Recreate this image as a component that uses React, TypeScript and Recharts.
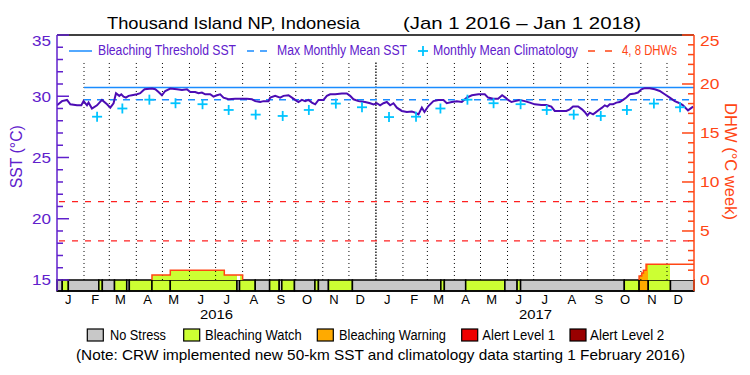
import React from 'react';
import {
  ComposedChart,
  Line,
  Area,
  Scatter,
  XAxis,
  YAxis,
  ReferenceLine,
  ReferenceArea,
} from 'recharts';

const PURPLE = '#6020cc';
const SST_COLOR = '#4c0cb4';
const BLUE = '#1a8cff';
const CYAN = '#00c4ff';
const ORANGE_RED = '#ff4614';
const DHW_RED = '#ff2020';
const FONT = '"Liberation Sans", Arial, sans-serif';

const TOTAL_DAYS = 731;
const monthLetters = ['J', 'F', 'M', 'A', 'M', 'J', 'J', 'A', 'S', 'O', 'N', 'D'];
const monthStarts = [0, 31, 60, 91, 121, 152, 182, 213, 244, 274, 305, 335, 366, 397, 425, 456, 486, 517, 547, 578, 609, 639, 670, 700];
const yearLabels = ['2016', '2017'];
const yearLabelDays = [183, 549];
const sstTicks = [15, 16, 17, 18, 19, 20, 21, 22, 23, 24, 25, 26, 27, 28, 29, 30, 31, 32, 33, 34, 35];
const dhwTicks = [0, 1, 2, 3, 4, 5, 6, 7, 8, 9, 10, 11, 12, 13, 14, 15, 16, 17, 18, 19, 20, 21, 22, 23, 24, 25];
const dhwLevels = [4, 8];

// Monthly mean climatology, Jan..Dec (plotted from Feb 2016)
const monthlyClimatology = [28.3, 28.33, 29.0, 29.72, 29.43, 29.35, 28.88, 28.5, 28.39, 28.88, 29.4, 29.1];

// [day since Jan 1 2016, SST °C]
const sstSeries: [number, number][] = [
  [0, 29.26], [5.7, 29.6], [11.5, 29.7], [15.3, 29.34], [23, 29.26], [27.9, 29.26], [30.5, 29.6], [34.4, 29.26],
  [36.2, 29.48], [40.1, 28.99], [45.9, 29.26], [51.6, 29.7], [57.4, 29.34], [61.1, 29.07], [64.9, 29.43], [67.7, 30.25],
  [71.5, 30.03], [73.8, 30.16], [76.4, 29.97], [79.1, 29.89], [82.1, 30.03], [86, 30.08], [91.8, 30.16], [95.5, 30.25],
  [98.2, 30.43], [100.5, 30.57], [109, 30.63], [112.8, 30.57], [116.5, 30.35], [120.4, 30.08], [124.2, 30.43], [130, 30.63],
  [137.6, 30.57], [143.4, 30.52], [149.1, 30.57], [152.9, 30.35], [158.6, 30.35], [162.4, 30.25], [166.3, 30.3], [170.1, 30.16],
  [175.8, 30.16], [179.6, 29.97], [183.5, 30.08], [187.3, 30.16], [191.1, 29.89], [196.8, 29.75], [204.5, 29.8], [212.2, 29.8],
  [217.9, 29.8], [223.7, 29.75], [227.5, 29.6], [233.2, 29.53], [237, 29.6], [242.7, 29.6], [244.7, 29.89], [250.4, 30.03],
  [256.1, 29.89], [259.9, 30.03], [265.7, 30.08], [269.6, 29.89], [273.3, 29.7], [277.1, 29.53], [281, 29.7], [284.8, 29.6],
  [288.6, 29.7], [292.5, 29.48], [296.3, 29.34], [300.1, 29.7], [305.8, 29.7], [309.7, 30.03], [313.5, 30.16], [319.2, 30.16],
  [326.9, 30.22], [332.6, 30.22], [336.4, 30.03], [340.2, 29.75], [346, 29.6], [353.6, 29.53], [359.4, 29.43], [363.2, 29.34],
  [367.1, 29.43], [370.8, 29.26], [374.6, 29.43], [378.5, 29.53], [382.3, 29.26], [386.1, 29.43], [390, 29.07], [395.7, 28.8],
  [401.5, 28.72], [407.2, 28.75], [411, 28.66], [414.8, 28.52], [418.7, 29.07], [421.7, 28.72], [426.2, 29.2], [432, 29.6],
  [437.7, 29.7], [443.5, 29.7], [447.3, 29.43], [453.1, 29.53], [458.8, 29.6], [464.6, 29.53], [470.3, 29.89], [476.1, 30.08],
  [483.6, 30.16], [490.9, 30.16], [494.7, 29.89], [500.5, 29.8], [506.2, 29.8], [510.8, 30.08], [514.6, 29.89], [517.7, 29.7],
  [521.5, 29.53], [525.4, 29.6], [531.1, 29.7], [536.8, 29.6], [542.6, 29.48], [548.3, 29.34], [555.9, 29.29], [561.6, 29.29],
  [567.3, 29.16], [571.2, 28.8], [577, 28.8], [584.5, 28.8], [588.4, 28.93], [592.2, 29.16], [598, 29.16], [602.5, 28.93],
  [605.6, 28.72], [608.6, 28.44], [611.4, 28.66], [615.2, 28.52], [617.8, 28.66], [621.7, 28.88], [625.5, 29.07], [628.6, 29.26],
  [631.6, 29.16], [634.3, 29.34], [638.1, 29.34], [641.9, 29.48], [645.8, 29.53], [649.6, 29.7], [653.4, 29.89], [657.3, 30.16],
  [663, 30.22], [666.8, 30.3], [670.6, 30.57], [674.5, 30.66], [680.2, 30.66], [686, 30.57], [691.7, 30.43], [697.4, 30.16],
  [703.2, 29.89], [708.9, 29.6], [714.6, 29.43], [718.4, 29.26], [724.1, 28.85], [730, 29.15],
];

// [day, Degree Heating Weeks] step points
const dhwSeries: [number, number][] = [
  [0, 0], [109, 0], [109, 0.5], [130, 1.0], [192, 0.5], [213, 0],
  [668, 0], [668, 0.4], [671, 0.7], [673, 1.0], [676, 1.6], [731, 1.6],
];

// [start day, end day, stress level index]
const stressSegments: [number, number, number][] = [
  [0, 6, 0], [6, 13, 1], [13, 48, 0], [48, 52, 1], [52, 66, 0], [66, 80, 1], [80, 83, 0], [83, 109, 1],
  [109, 130, 1], [130, 206.5, 1], [206.5, 209.5, 0], [209.5, 227.5, 1], [227.5, 244, 0], [244, 255, 1],
  [255, 258, 0], [258, 272.5, 1], [272.5, 296, 0], [296, 300, 1], [300, 311.5, 0], [311.5, 339, 1],
  [339, 440.5, 0], [440.5, 444.5, 1], [444.5, 469, 0], [469, 514, 1], [514, 528, 0], [528, 532, 1],
  [532, 651, 0], [651, 668, 1], [668, 678.5, 2], [678.5, 704, 1], [704, 731, 0],
];
const stressNames = ['No Stress', 'Bleaching Watch', 'Bleaching Warning', 'Alert Level 1', 'Alert Level 2'];
const stressColors = ['#c8c8c8', '#ccff33', '#ffaa00', '#ee0000', '#990000'];

const SST_MIN = 14.1;
const SST_MAX = 35;
const DHW_MIN = -1.125;
const DHW_MAX = 25;

const monthTicks = monthStarts.map((s) => s + 14);

const renderLeftTick = (p: any) => {
  const v = p.payload.value;
  const major = v % 5 === 0;
  return (
    <g>
      <line x1={p.x} x2={p.x + (major ? 12 : 6)} y1={p.y} y2={p.y} stroke={PURPLE} strokeWidth={1.5} />
      {major && (
        <text x={p.x - 6} y={Math.max(p.y, 40)} dy={5.5} textAnchor="end" fill={PURPLE} fontSize={15}
          fontFamily={FONT} textLength={19} lengthAdjust="spacingAndGlyphs">{v}</text>
      )}
    </g>
  );
};

const renderRightTick = (p: any) => {
  const v = p.payload.value;
  const major = v % 5 === 0;
  const label = String(v);
  return (
    <g>
      {v > 0 && <line x1={p.x} x2={p.x - (major ? 12 : 6)} y1={p.y} y2={p.y} stroke={ORANGE_RED} strokeWidth={1.5} />}
      {major && (
        <text x={p.x + 6} y={Math.max(p.y, 40)} dy={5.5} textAnchor="start" fill={ORANGE_RED} fontSize={15}
          fontFamily={FONT} textLength={label.length * 9.7} lengthAdjust="spacingAndGlyphs">{label}</text>
      )}
    </g>
  );
};

const renderMonthTick = (p: any) => {
  const idx = monthTicks.indexOf(p.payload.value);
  return (
    <text x={p.x - 1} y={p.y + 13} textAnchor="middle" fontSize={13} fontFamily={FONT} fill="#000">
      {monthLetters[(idx + 12) % 12]}
    </text>
  );
};

const renderYearTick = (p: any) => {
  const idx = yearLabelDays.indexOf(p.payload.value);
  return (
    <text x={p.x} y={p.y + 14} textAnchor="middle" fontSize={13} fontFamily={FONT} fill="#000"
      textLength={33} lengthAdjust="spacingAndGlyphs">{yearLabels[idx]}</text>
  );
};

const renderCross = (p: any) => {
  const { cx, cy } = p;
  if (cx == null || cy == null) return <g />;
  return (
    <g>
      <line x1={cx - 5} x2={cx + 5} y1={cy} y2={cy} stroke={CYAN} strokeWidth={1.8} />
      <line x1={cx} x2={cx} y1={cy - 5} y2={cy + 5} stroke={CYAN} strokeWidth={1.8} />
    </g>
  );
};

export default function App() {
  const mmm = Math.max(...monthlyClimatology);
  const threshold = mmm + 1;
  const sstData = sstSeries.map(([d, v]) => ({ d, v }));
  const climData = monthStarts.slice(1).map((s, i) => ({ d: s + 15, v: monthlyClimatology[(i + 1) % 12] }));
  const dhwData = dhwSeries.map(([d, v]) => ({ d, v }));
  const dhwOutline: { d: number; v: number | null }[] = [];
  dhwSeries.forEach(([d, v], i) => {
    dhwOutline.push({ d, v });
    const nx = dhwSeries[i + 1];
    if (nx && v === 0 && nx[1] === 0) dhwOutline.push({ d: (d + nx[0]) / 2, v: null });
  });
  const gridDays = monthStarts.slice(1);
  const gradientStops: { off: number; color: string }[] = [];
  stressSegments.forEach(([s, e, lvl]) => {
    const color = lvl === 0 ? '#ffffff' : stressColors[lvl];
    gradientStops.push({ off: s / TOTAL_DAYS, color });
    gradientStops.push({ off: e / TOTAL_DAYS, color });
  });

  const legendBoxX = [87.3, 183.7, 317.3, 461.7, 570];
  const legendTextX = [110, 205, 339, 482.3, 590];
  const legendTextW = [56, 96.7, 107, 72.7, 74.3];

  return (
    <div style={{ position: 'absolute', left: 0, top: 0, width: 750, height: 375, background: '#fff' }}>
      <ComposedChart width={750} height={375} margin={{ top: 35, right: 0, bottom: 40, left: 0 }}>
        <defs>
          <linearGradient id="dhwFill" x1="0" y1="0" x2="1" y2="0">
            {gradientStops.map((g, i) => (
              <stop key={i} offset={g.off} stopColor={g.color} />
            ))}
          </linearGradient>
        </defs>
        <XAxis xAxisId={0} type="number" dataKey="d" domain={[0, TOTAL_DAYS]} allowDataOverflow ticks={monthTicks}
          interval={0} tick={renderMonthTick} tickLine={false} tickSize={0} tickMargin={0} height={14}
          axisLine={{ stroke: '#000', strokeWidth: 1.5 }} />
        <XAxis xAxisId="yr" type="number" dataKey="d" domain={[0, TOTAL_DAYS]} allowDataOverflow ticks={yearLabelDays}
          interval={0} tick={renderYearTick} tickLine={false} tickSize={0} tickMargin={0} height={30} axisLine={false} />
        <YAxis yAxisId="sst" orientation="left" type="number" domain={[SST_MIN, SST_MAX]} allowDataOverflow width={57}
          ticks={sstTicks} interval={0} tick={renderLeftTick} tickLine={false} tickSize={0} tickMargin={0}
          axisLine={{ stroke: PURPLE, strokeWidth: 1.5 }} />
        <YAxis yAxisId="dhw" orientation="right" type="number" domain={[DHW_MIN, DHW_MAX]} allowDataOverflow width={56}
          ticks={dhwTicks} interval={0} tick={renderRightTick} tickLine={false} tickSize={0} tickMargin={0}
          axisLine={{ stroke: ORANGE_RED, strokeWidth: 1.5 }} />

        <ReferenceLine yAxisId="sst" y={SST_MAX} stroke="#000" strokeWidth={1.5} />
        {gridDays.map((d) => (
          <ReferenceLine key={`g${d}`} yAxisId="sst" segment={[{ x: d, y: 15 }, { x: d, y: 32.8 }]}
            stroke="#000" strokeWidth={d === 366 ? 1.3 : 1} strokeDasharray={d === 366 ? '1.5 1.5' : '1 3'} />
        ))}
        {dhwLevels.map((lv) => (
          <ReferenceLine key={`dl${lv}`} yAxisId="dhw" y={lv} stroke={DHW_RED} strokeWidth={1.2} strokeDasharray="6 7" strokeDashoffset={-5} />
        ))}
        <ReferenceLine yAxisId="sst" segment={[{ x: 31, y: threshold }, { x: TOTAL_DAYS, y: threshold }]} stroke={BLUE} strokeWidth={1.5} />
        <ReferenceLine yAxisId="sst" segment={[{ x: 31, y: mmm }, { x: TOTAL_DAYS, y: mmm }]} stroke={BLUE} strokeWidth={1.5} strokeDasharray="7 6" />

        {stressSegments.map(([s, e, lvl], i) => (
          <ReferenceArea key={`s${i}`} yAxisId="sst" x1={s} x2={e} y1={SST_MIN} y2={15}
            fill={stressColors[lvl]} fillOpacity={1} stroke="#000" strokeWidth={1.5} />
        ))}

        <Area yAxisId="dhw" data={dhwData} dataKey="v" type="stepAfter" stroke="none" fill="url(#dhwFill)"
          fillOpacity={1} isAnimationActive={false} dot={false} activeDot={false} />
        <Line yAxisId="dhw" data={dhwOutline} dataKey="v" type="stepAfter" stroke={ORANGE_RED} strokeWidth={1.5}
          dot={false} activeDot={false} connectNulls={false} isAnimationActive={false} />

        <Scatter yAxisId="sst" data={climData} dataKey="v" shape={renderCross} isAnimationActive={false} />
        <Line yAxisId="sst" data={sstData} dataKey="v" type="linear" stroke={SST_COLOR} strokeWidth={2}
          dot={false} activeDot={false} isAnimationActive={false} />
      </ComposedChart>

      <svg width={750} height={375} style={{ position: 'absolute', left: 0, top: 0, pointerEvents: 'none' }}
        fontFamily={FONT}>
        <text x={107} y={29} fontSize={17} fill="#000" textLength={253} lengthAdjust="spacingAndGlyphs">Thousand Island NP, Indonesia</text>
        <text x={403} y={29} fontSize={17} fill="#000" textLength={238} lengthAdjust="spacingAndGlyphs">(Jan 1 2016 – Jan 1 2018)</text>

        <line x1={69} x2={92} y1={51} y2={51} stroke={BLUE} strokeWidth={1.5} />
        <text x={98} y={55} fontSize={14} fill={PURPLE} textLength={138} lengthAdjust="spacingAndGlyphs">Bleaching Threshold SST</text>
        <line x1={247} x2={267} y1={51} y2={51} stroke={BLUE} strokeWidth={1.5} strokeDasharray="7 6" />
        <text x={277} y={55} fontSize={14} fill={PURPLE} textLength={130} lengthAdjust="spacingAndGlyphs">Max Monthly Mean SST</text>
        <line x1={418} x2={428} y1={51} y2={51} stroke={CYAN} strokeWidth={1.8} />
        <line x1={423} x2={423} y1={46} y2={56} stroke={CYAN} strokeWidth={1.8} />
        <text x={433} y={55} fontSize={14} fill={PURPLE} textLength={145} lengthAdjust="spacingAndGlyphs">Monthly Mean Climatology</text>
        <line x1={588} x2={612} y1={51} y2={51} stroke={ORANGE_RED} strokeWidth={1.5} strokeDasharray="7 10" />
        <text x={622} y={55} fontSize={14} fill={ORANGE_RED} textLength={55} lengthAdjust="spacingAndGlyphs">4, 8 DHWs</text>

        <text transform="translate(22,156.7) rotate(-90)" textAnchor="middle" fontSize={17} fill={PURPLE}
          textLength={63} lengthAdjust="spacingAndGlyphs">SST (°C)</text>
        <text transform="translate(725,161.5) rotate(90)" textAnchor="middle" fontSize={17} fill={ORANGE_RED}
          textLength={117} lengthAdjust="spacingAndGlyphs">DHW (°C week)</text>

        {stressNames.map((name, i) => (
          <g key={name}>
            <rect x={legendBoxX[i]} y={329} width={16} height={12} fill={stressColors[i]} stroke="#000" strokeWidth={1.2} />
            <text x={legendTextX[i]} y={340} fontSize={14} fill="#000" textLength={legendTextW[i]}
              lengthAdjust="spacingAndGlyphs">{name}</text>
          </g>
        ))}
        <text x={76} y={360} fontSize={14.5} fill="#000" textLength={609} lengthAdjust="spacingAndGlyphs">
          (Note: CRW implemented new 50-km SST and climatology data starting 1 February 2016)
        </text>
      </svg>
    </div>
  );
}
